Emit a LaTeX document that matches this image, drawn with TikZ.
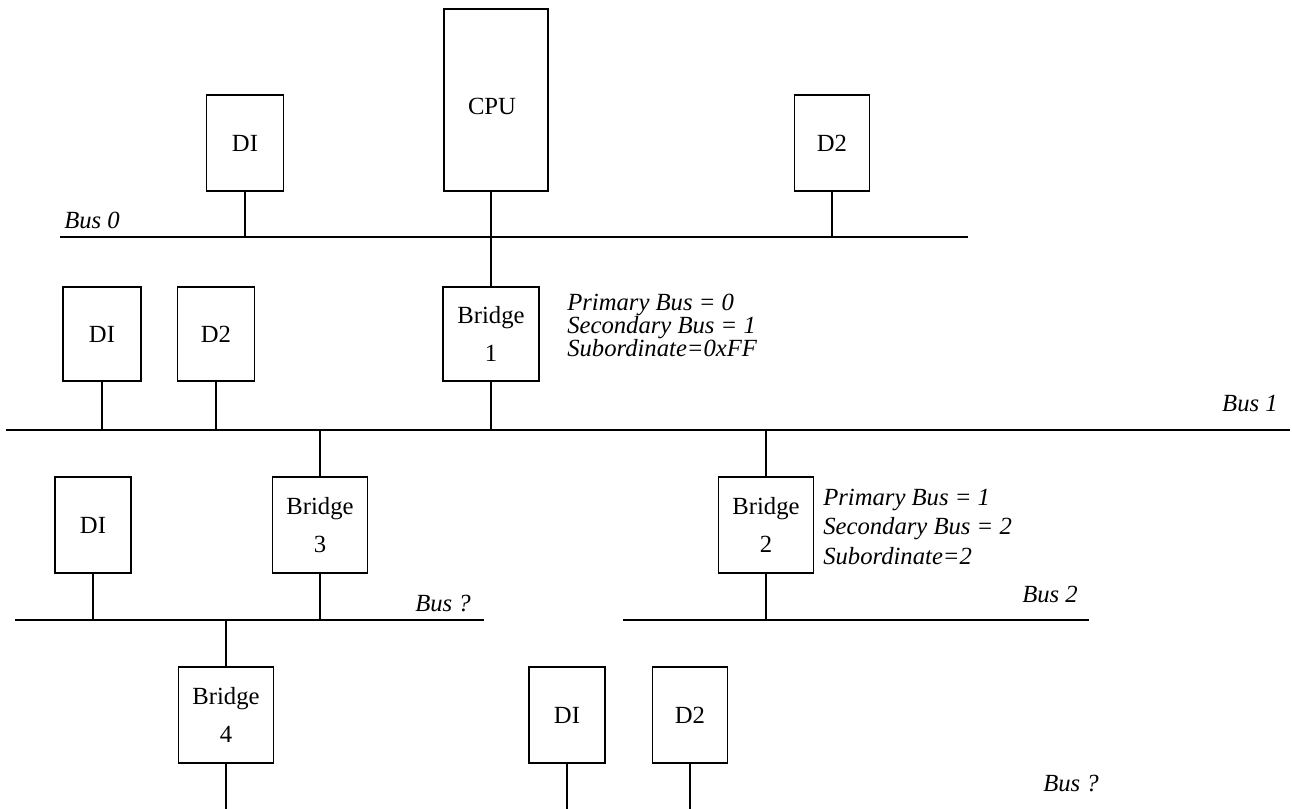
\documentclass[tikz,border=0pt]{standalone}
\usepackage{fontspec}
\setmainfont{Liberation Serif}
\begin{document}
\begin{tikzpicture}[x=0.75pt,y=-0.75pt,
  wire/.style={line width=1pt, line cap=rect},
  box/.style={draw, line width=1pt, inner sep=0pt, font=\fontsize{18.5}{22}\selectfont},
  wh/.style 2 args={minimum width=#1*0.75pt, minimum height=#2*0.75pt},
  bridgebox/.style={box, align=center, font=\fontsize{18.5}{28}\selectfont},
  buslabel/.style={inner sep=0pt, font=\fontsize{18.5}{22}\selectfont\itshape},
  info/.style={inner sep=0pt, anchor=north west, align=left, font=\fontsize{18.5}{#1}\selectfont\itshape}
]
\useasboundingbox (0,0) rectangle (1292,809);

% bus end points
\coordinate (b0l) at (61,237);  \coordinate (b0r) at (967,237);
\coordinate (b1l) at (7,430);   \coordinate (b1r) at (1289,430);
\coordinate (bql) at (16,620);  \coordinate (bqr) at (483,620);
\coordinate (b2l) at (624,620); \coordinate (b2r) at (1088,620);
\coordinate (bot) at (0,809);

% boxes
\node[box, wh={77}{96}] (di0) at (245,143) {DI};
\node[box, wh={104}{182}] (cpu) at (496,100) {};
\node[inner sep=0pt, font=\fontsize{18.5}{22}\selectfont] (cputxt) at (492,106) {CPU};
\node[box, wh={75}{96}] (d2top) at (832,143) {D2};

\node[box, wh={78}{94}] (di1) at (102,334) {DI};
\node[box, wh={77}{94}] (d21) at (216,334) {D2};
\node[bridgebox, wh={96}{94}] (br1) at (491,334) {Bridge\\1};

\node[box, wh={76}{96}] (di2) at (93,525) {DI};
\node[bridgebox, wh={95}{96}] (br3) at (320,525) {Bridge\\3};
\node[bridgebox, wh={95}{96}] (br2) at (766,525) {Bridge\\2};

\node[bridgebox, wh={95}{96}] (br4) at (226,715) {Bridge\\4};
\node[box, wh={76}{96}] (di3) at (567,715) {DI};
\node[box, wh={75}{96}] (d23) at (690,715) {D2};

% buses
\draw[wire] (b0l) -- (b0r);
\draw[wire] (b1l) -- (b1r);
\draw[wire] (bql) -- (bqr);
\draw[wire] (b2l) -- (b2r);

% connectors
\draw[wire] (di0.south) -- (di0.south |- b0l);
\draw[wire] (d2top.south) -- (d2top.south |- b0l);
\draw[wire] (br1.north) -- (br1.north |- cpu.south);
\draw[wire] (di1.south) -- (di1.south |- b1l);
\draw[wire] (d21.south) -- (d21.south |- b1l);
\draw[wire] (br1.south) -- (br1.south |- b1l);
\draw[wire] (br3.north) -- (br3.north |- b1l);
\draw[wire] (br2.north) -- (br2.north |- b1l);
\draw[wire] (di2.south) -- (di2.south |- bql);
\draw[wire] (br3.south) -- (br3.south |- bql);
\draw[wire] (br2.south) -- (br2.south |- b2l);
\draw[wire] (br4.north) -- (br4.north |- bql);
\draw[wire] (br4.south) -- (br4.south |- bot);
\draw[wire] (di3.south) -- (di3.south |- bot);
\draw[wire] (d23.south) -- (d23.south |- bot);

% labels
\node[buslabel, anchor=base west] (lb0) at (64,229) {Bus 0};
\node[buslabel, anchor=base east] (lb1) at (1278,411) {Bus 1};
\node[buslabel, anchor=base west] (lbq1) at (415,611) {Bus ?};
\node[buslabel, anchor=base west] (lb2) at (1022,602) {Bus 2};
\node[buslabel, anchor=base west] (lbq2) at (1043,791) {Bus ?};

\node[info=17.25] (inf1) at (567,294) {Primary Bus = 0\\Secondary Bus = 1\\Subordinate=0xFF};
\node[info=22] (inf2) at (823,489) {Primary Bus = 1\\Secondary Bus = 2\\Subordinate=2};
\end{tikzpicture}
\end{document}
